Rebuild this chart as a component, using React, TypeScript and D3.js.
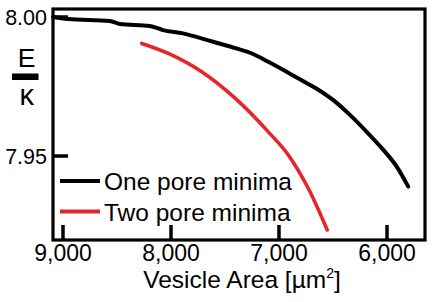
import * as d3 from 'd3';
import React from 'react';

// vesicle area (um^2)
const onePoreArea = [9093, 8954, 8568, 8475, 8197, 8074, 7889, 7611, 7396, 7241, 7099, 6806, 6651, 6497, 6343, 6188, 6034, 5910, 5803];
const onePoreE = [8.0, 7.9993, 7.9986, 7.9975, 7.9968, 7.9953, 7.9941, 7.9911, 7.9887, 7.9867, 7.9839, 7.9776, 7.9742, 7.9701, 7.9648, 7.9587, 7.9522, 7.9462, 7.939];

const twoPoreArea = [8271, 8025, 7716, 7407, 7099, 6914, 6729, 6553];
const twoPoreE = [7.9905, 7.9869, 7.9803, 7.9708, 7.9587, 7.9504, 7.9384, 7.9234];

const xTicks = [9000, 8000, 7000, 6000];
const yTicks = [8.0, 7.95];
const seriesNames = ['One pore minima', 'Two pore minima'];
const seriesColors = ['#000000', '#e8242b'];

const font = '"Liberation Sans", Arial, sans-serif';

export default function App() {
  const width = 436;
  const height = 302;
  const plot = { left: 53, top: 9, right: 425, bottom: 240 };

  const x = d3.scaleLinear().domain([9092.6, 5648]).range([plot.left, plot.right]);
  const y = d3.scaleLinear().domain([8.00288, 7.9198]).range([plot.top, plot.bottom]);

  const line = d3
    .line<[number, number]>()
    .x(d => x(d[0]))
    .y(d => y(d[1]))
    .curve(d3.curveMonotoneX);

  const series = [
    onePoreArea.map((a, i) => [a, onePoreE[i]] as [number, number]),
    twoPoreArea.map((a, i) => [a, twoPoreE[i]] as [number, number]),
  ];
  const widths = [4, 3.6];

  return (
    <svg
      width={width}
      height={height}
      style={{ position: 'absolute', left: 0, top: 0, background: '#fff' }}
      fontFamily={font}
    >
      {/* ticks point inward */}
      {xTicks.map(t => (
        <g key={'x' + t}>
          <line x1={x(t)} x2={x(t)} y1={plot.bottom} y2={plot.bottom - 15} stroke="#000" strokeWidth={3.5} />
          <text x={x(t)} y={261} fontSize={23} textAnchor="middle">
            {d3.format(',')(t)}
          </text>
        </g>
      ))}
      {yTicks.map(t => (
        <g key={'y' + t}>
          <line x1={plot.left} x2={plot.left + 15} y1={y(t)} y2={y(t)} stroke="#000" strokeWidth={3.5} />
          <text x={47} y={y(t) + 8} fontSize={21.5} textAnchor="end">
            {t.toFixed(2)}
          </text>
        </g>
      ))}

      {series.map((s, i) => (
        <path
          key={i}
          d={line(s) || ''}
          fill="none"
          stroke={seriesColors[i]}
          strokeWidth={widths[i]}
          strokeLinecap="round"
          strokeLinejoin="round"
        />
      ))}

      <rect
        x={plot.left}
        y={plot.top}
        width={plot.right - plot.left}
        height={plot.bottom - plot.top}
        fill="none"
        stroke="#000"
        strokeWidth={3.2}
      />

      {/* legend */}
      {seriesNames.map((name, i) => (
        <g key={name} transform={`translate(0,${181 + i * 30.5})`}>
          <line x1={60} x2={100} y1={0} y2={0} stroke={seriesColors[i]} strokeWidth={4} />
          <text x={104} y={9} fontSize={24.5}>
            {name}
          </text>
        </g>
      ))}

      {/* y label E / kappa */}
      <text x={26.7} y={67} fontSize={26.5} textAnchor="middle">
        E
      </text>
      <rect x={12} y={73.5} width={26.5} height={6.5} fill="#000" />
      <text x={26.7} y={105} fontSize={29} textAnchor="middle">
        κ
      </text>

      <text x={(plot.left + plot.right) / 2 + 3} y={288} fontSize={24.5} textAnchor="middle">
        Vesicle Area [µm<tspan fontSize={14} dy={-10}>2</tspan>
        <tspan dy={10}>]</tspan>
      </text>
    </svg>
  );
}
